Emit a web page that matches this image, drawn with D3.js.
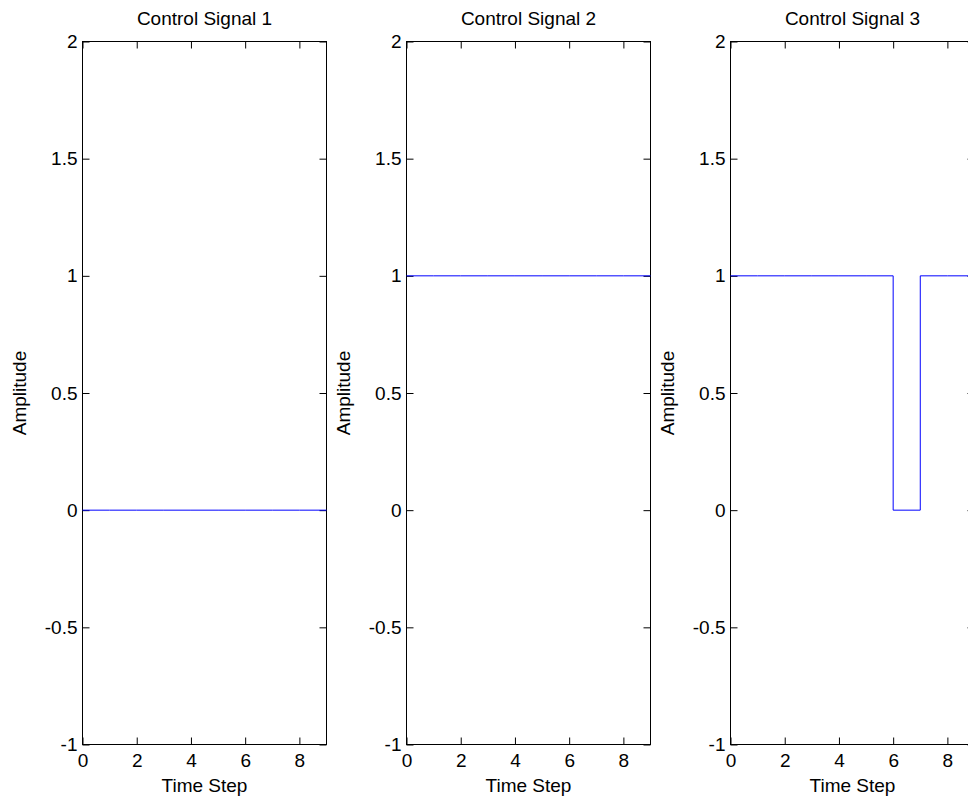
<!DOCTYPE html>
<html>
<head>
<meta charset="utf-8">
<script src="https://cdn.jsdelivr.net/npm/d3@7"></script>
<style>
  body { margin: 0; background: #fff; }
  svg { display: block; font-family: "Liberation Sans", Arial, sans-serif; }
  .frame { fill: none; stroke: #000; stroke-width: 1; }
  .tick line { stroke: #000; }
  .tick text { font-size: 19px; fill: #000; }
  .label { font-size: 19px; fill: #000; }
  .signal { fill: none; stroke: #0000ff; stroke-width: 1; }
</style>
</head>
<body>
<svg width="968" height="803"></svg>
<script>
const timeSteps = [0, 1, 2, 3, 4, 5, 6, 7, 8, 9];
const signal1 = [0, 0, 0, 0, 0, 0, 0, 0, 0, 0];
const signal2 = [1, 1, 1, 1, 1, 1, 1, 1, 1, 1];
const signal3 = [1, 1, 1, 1, 1, 1, 0, 1, 1, 1];
const titles = ["Control Signal 1", "Control Signal 2", "Control Signal 3"];
const xTicks = [0, 2, 4, 6, 8];
const yTicks = [-1, -0.5, 0, 0.5, 1, 1.5, 2];

function drawChart() {
  const svg = d3.select("svg");
  const signals = [signal1, signal2, signal3];
  const lefts = [82, 406, 730];
  const top = 41, width = 244, height = 703;

  const x = d3.scaleLinear().domain([0, 9]).range([0, width]);
  const y = d3.scaleLinear().domain([-1, 2]).range([height, 0]);
  const line = d3.line()
    .x((d) => x(d[0]))
    .y((d) => y(d[1]))
    .curve(d3.curveStepAfter);

  signals.forEach((values, i) => {
    const g = svg.append("g")
      .attr("transform", `translate(${lefts[i] + 0.5},${top + 0.5})`);

    // ticks point inward on all four sides
    g.append("g")
      .attr("transform", `translate(0,${height})`)
      .call(d3.axisBottom(x).tickValues(xTicks).tickSizeInner(-7).tickSizeOuter(0).tickPadding(9))
      .call((a) => a.select(".domain").remove());
    g.append("g")
      .call(d3.axisTop(x).tickValues(xTicks).tickSizeInner(-7).tickSizeOuter(0).tickFormat(""))
      .call((a) => a.select(".domain").remove());
    g.append("g")
      .call(d3.axisLeft(y).tickValues(yTicks).tickSizeInner(-7).tickSizeOuter(0).tickPadding(5)
        .tickFormat((d) => String(d)))
      .call((a) => a.select(".domain").remove());
    g.append("g")
      .attr("transform", `translate(${width},0)`)
      .call(d3.axisRight(y).tickValues(yTicks).tickSizeInner(-7).tickSizeOuter(0).tickFormat(""))
      .call((a) => a.select(".domain").remove());

    g.append("rect")
      .attr("class", "frame")
      .attr("width", width)
      .attr("height", height);

    g.append("path")
      .datum(timeSteps.map((t, j) => [t, values[j]]))
      .attr("class", "signal")
      .attr("d", line);

    g.append("text")
      .attr("class", "label")
      .attr("x", width / 2)
      .attr("y", -17)
      .attr("text-anchor", "middle")
      .text(titles[i]);
    g.append("text")
      .attr("class", "label")
      .attr("x", width / 2)
      .attr("y", height + 47)
      .attr("text-anchor", "middle")
      .text("Time Step");
    g.append("text")
      .attr("class", "label")
      .attr("transform", `translate(-57,${height / 2}) rotate(-90)`)
      .attr("text-anchor", "middle")
      .text("Amplitude");
  });
}

drawChart();
</script>
</body>
</html>
